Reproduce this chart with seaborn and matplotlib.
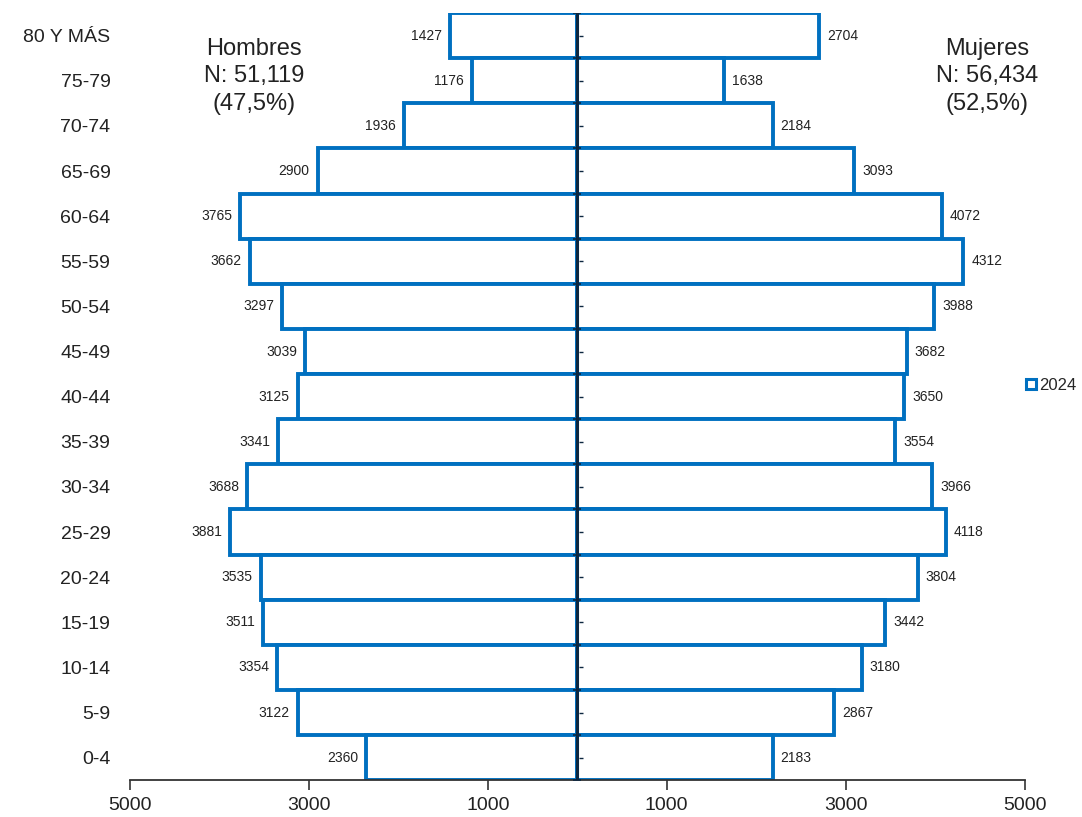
import numpy as np
import pandas as pd
import matplotlib
matplotlib.use('Agg')
import matplotlib.pyplot as plt
from matplotlib.ticker import FuncFormatter
from matplotlib.lines import Line2D
import seaborn as sns

#%% data (top row first)
grupos = ['80 Y MÁS', '75-79', '70-74', '65-69', '60-64', '55-59', '50-54', '45-49',
          '40-44', '35-39', '30-34', '25-29', '20-24', '15-19', '10-14', '5-9', '0-4']
hombres = [1427, 1176, 1936, 2900, 3765, 3662, 3297, 3039,
           3125, 3341, 3688, 3881, 3535, 3511, 3354, 3122, 2360]
mujeres = [2704, 1638, 2184, 3093, 4072, 4312, 3988, 3682,
           3650, 3554, 3966, 4118, 3804, 3442, 3180, 2867, 2183]
xticks = [-5000, -3000, -1000, 1000, 3000, 5000]

df = pd.DataFrame({'grupo': grupos,
                   'hombres': -np.array(hombres),
                   'mujeres': mujeres})

azul = '#0070C0'

sns.set_style('white')
plt.rcParams['font.family'] = ['Liberation Sans', 'DejaVu Sans']

fig = plt.figure(figsize=(10.82, 8.17), dpi=100)
ax = fig.add_axes([0.120, 0.045, 0.827, 0.939])

for col in ['hombres', 'mujeres']:
    sns.barplot(data=df, x=col, y='grupo', orient='h', width=1.0,
                color='white', edgecolor=azul, linewidth=2.8, ax=ax)

# value labels
for i, (h, m) in enumerate(zip(hombres, mujeres)):
    ax.text(-h - 90, i, str(h), ha='right', va='center', fontsize=10, color='#222222')
    ax.text(m + 90, i, str(m), ha='left', va='center', fontsize=10, color='#222222')

# centre line with little ticks
n = len(grupos)
ax.axvline(0, color='#0d2740', lw=2.2, zorder=5)
ax.scatter(np.zeros(n + 1), np.arange(n + 1) - 0.5, marker='_', s=30,
           color='#0d2740', lw=1.2, zorder=6)
ax.scatter(np.zeros(n) + 40, np.arange(n), marker='_', s=10,
           color='#0d2740', lw=1.0, zorder=6)

ax.set_xlim(-5000, 5000)
ax.set_ylim(n - 0.5, -0.5)
ax.set_xticks(xticks)
ax.xaxis.set_major_formatter(FuncFormatter(lambda v, p: f'{abs(int(v))}'))
ax.tick_params(axis='x', length=7, width=1.2, color='#333333', labelsize=14, pad=5,
               bottom=True, labelcolor='#222222')
ax.tick_params(axis='y', length=0, labelsize=14, pad=14, labelcolor='#222222')
ax.set_xlabel('')
ax.set_ylabel('')

for s in ['top', 'right', 'left']:
    ax.spines[s].set_visible(False)
ax.spines['bottom'].set_color('#333333')
ax.spines['bottom'].set_linewidth(1.3)

ax.text(0.139, 0.967, 'Hombres\nN: 51,119\n(47,5%)', transform=ax.transAxes,
        ha='center', va='top', fontsize=17, color='#222222', linespacing=1.3)
ax.text(0.958, 0.967, 'Mujeres\nN: 56,434\n(52,5%)', transform=ax.transAxes,
        ha='center', va='top', fontsize=17, color='#222222', linespacing=1.3)

handle = Line2D([], [], marker='s', markersize=7, markerfacecolor='white',
                markeredgecolor=azul, markeredgewidth=2.2, linestyle='none')
ax.legend([handle], ['2024'], loc='center left', bbox_to_anchor=(0.99, 0.515),
          frameon=False, fontsize=12, handletextpad=0.0, borderaxespad=0,
          handlelength=1.0)

fig.savefig('out.png', dpi=100)
